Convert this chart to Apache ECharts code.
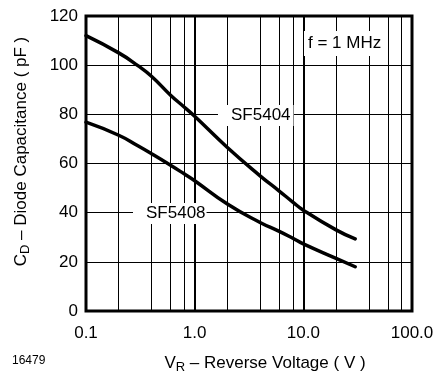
<!DOCTYPE html>
<html>
<head>
<meta charset="utf-8">
<script src="https://cdn.jsdelivr.net/npm/echarts@6/dist/echarts.min.js"></script>
<style>
  html, body { margin: 0; padding: 0; background: #fff; }
  #chart { width: 434px; height: 371px; }
</style>
</head>
<body>
<div id="chart"></div>
<script>
// reverse voltage (V)
var voltage = [0.1, 0.2, 0.3, 0.4, 0.6, 0.8, 1, 2, 4, 6, 8, 10, 20, 30]
// diode capacitance (pF)
var capSF5404 = [112, 105, 99.8, 95.5, 87.8, 83, 79.2, 66.5, 55, 48.8, 44.3, 41, 33, 29.3]
var capSF5408 = [76.8, 71.5, 67.2, 64, 59.3, 55.8, 53, 43.5, 36, 32.4, 29.6, 27.3, 21.4, 18]

var xTickLabels = ['0.1', '1.0', '10.0', '100.0']
var xMinorLines = [0.2, 0.4, 0.6, 0.8, 2, 4, 6, 8, 20, 40, 60, 80]

var font = 'Liberation Sans, Arial, Helvetica, sans-serif'

function pairs(ys) {
  return voltage.map(function (v, i) { return [v, ys[i]] })
}

var chart = echarts.init(document.getElementById('chart'))

var option = {
  animation: false,
  grid: {
    left: 86, right: 22, top: 16, bottom: 60,
    outerBoundsMode: 'none',
    show: true,
    borderColor: '#000',
    borderWidth: 3,
    z: 5
  },
  xAxis: {
    type: 'log',
    logBase: 10,
    min: 0.1,
    max: 100,
    name: '{v|V}{sub|R} – Reverse Voltage ( V )',
    nameLocation: 'middle',
    nameGap: 42,
    nameTextStyle: {
      color: '#000',
      fontFamily: font,
      fontSize: 17,
      padding: [0, 0, 0, 32],
      rich: {
        v: { fontSize: 17, fontFamily: font, color: '#000' },
        sub: { fontSize: 13, fontFamily: font, color: '#000', padding: [8, 0, 0, 0] }
      }
    },
    axisLine: { show: false },
    axisTick: { show: false },
    axisLabel: {
      color: '#000',
      fontFamily: font,
      fontSize: 17,
      margin: 14,
      formatter: function (v) {
        var i = Math.round(Math.log10(v)) + 1
        return xTickLabels[i]
      }
    },
    splitLine: { show: true, lineStyle: { color: '#000', width: 2 } }
  },
  yAxis: {
    type: 'value',
    min: 0,
    max: 120,
    interval: 20,
    name: '{c|C}{sub|D} – Diode Capacitance ( pF )',
    nameLocation: 'middle',
    nameGap: 54,
    nameRotate: 90,
    nameTextStyle: {
      color: '#000',
      fontFamily: font,
      fontSize: 17,
      padding: [0, 0, 0, 24],
      rich: {
        c: { fontSize: 17, fontFamily: font, color: '#000' },
        sub: { fontSize: 13, fontFamily: font, color: '#000', padding: [8, 0, 0, 0] }
      }
    },
    axisLine: { show: false },
    axisTick: { show: false },
    axisLabel: { color: '#000', fontFamily: font, fontSize: 17, margin: 8 },
    splitLine: { show: true, lineStyle: { color: '#000', width: 1 } }
  },
  series: [
    {
      name: 'SF5404',
      type: 'line',
      data: pairs(capSF5404),
      smooth: 0.5,
      symbol: 'none',
      z: 10,
      lineStyle: { color: '#000', width: 3.5, cap: 'round' },
      markLine: {
        silent: true,
        symbol: 'none',
        label: { show: false },
        lineStyle: { color: '#000', width: 1, type: 'solid' },
        data: xMinorLines.map(function (v) { return { xAxis: v } })
      }
    },
    {
      name: 'SF5408',
      type: 'line',
      data: pairs(capSF5408),
      smooth: 0.5,
      symbol: 'none',
      z: 10,
      lineStyle: { color: '#000', width: 3.5, cap: 'round' }
    }
  ],
  graphic: [
    {
      type: 'text', left: 218, top: 105, z: 100,
      style: {
        text: 'SF5404', fill: '#000', font: '17px ' + font,
        backgroundColor: '#fff', padding: [2, 3, 2, 13]
      }
    },
    {
      type: 'text', left: 133, top: 203, z: 100,
      style: {
        text: 'SF5408', fill: '#000', font: '17px ' + font,
        backgroundColor: '#fff', padding: [2, 1, 2, 13]
      }
    },
    {
      type: 'text', left: 304, top: 31, z: 100,
      style: {
        text: 'f = 1 MHz', fill: '#000', font: '17px ' + font,
        backgroundColor: '#fff', padding: [4, 4, 4, 4]
      }
    },
    {
      type: 'text', left: 12, top: 355, z: 100,
      style: { text: '16479', fill: '#000', font: '12px ' + font }
    }
  ]
}

chart.setOption(option)
</script>
</body>
</html>
